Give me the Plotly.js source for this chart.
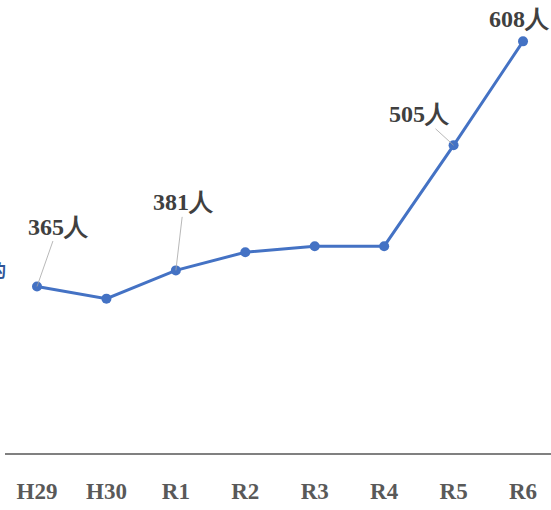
<!DOCTYPE html>
<html><head><meta charset="utf-8">
<script src="https://cdn.plot.ly/plotly-3.0.1.min.js"></script>
<style>html,body{margin:0;padding:0;background:#fff;}#chart{width:551px;height:510px;}</style>
</head><body><div id="chart"></div>
<script>
const categories = ["H29","H30","R1","R2","R3","R4","R5","R6"];
const values = [365, 353, 381, 399, 405, 405, 505, 608];
const labelIdx = [0, 2, 6, 7];
const labelText = ["365人","381人","505人","608人"];
const sideText = "目的";

const lineColor = "#4472C4";
const labelFont = {family: "Liberation Serif, DejaVu Serif, serif", size: 24, color: "#404040", weight: "bold"};
const offsets = [[21,-60],[8,-68],[-34,-31],[-4,-22]];

const annotations = labelIdx.map((idx, k) => {
  const a = {
    x: idx, y: values[idx], xref: "x", yref: "y",
    text: "<b>" + labelText[k] + "</b>",
    font: labelFont,
    ax: offsets[k][0], ay: offsets[k][1], axref: "pixel", ayref: "pixel",
    showarrow: k !== 3, arrowhead: 0, arrowwidth: 0.8, arrowcolor: "#A6A6A6", standoff: 0
  };
  if (k === 3) { a.showarrow = false; a.xshift = offsets[k][0]; a.yshift = -offsets[k][1]; }
  return a;
});
annotations.push({
  xref: "paper", yref: "y", x: 0, y: 382, xanchor: "right", xshift: 3,
  text: "<b>" + sideText + "</b>", showarrow: false,
  font: {family: "Noto Sans CJK JP, sans-serif", size: 17, color: "#2F5597"}
});

Plotly.newPlot("chart", [{
  x: categories.map((c, i) => i),
  y: values,
  type: "scatter", mode: "lines+markers",
  line: {color: lineColor, width: 3},
  marker: {color: lineColor, size: 10},
  hoverinfo: "skip", cliponaxis: false
}], {
  width: 551, height: 510,
  margin: {l: 5, r: 0, t: 0, b: 57},
  paper_bgcolor: "#fff", plot_bgcolor: "#fff",
  showlegend: false,
  xaxis: {
    range: [-0.461, 7.403], tickmode: "array",
    tickvals: categories.map((c, i) => i), ticktext: categories.map(c => "<b>" + c + "</b>"),
    showgrid: false, zeroline: false, showline: true, linecolor: "#808080", linewidth: 1.5,
    ticks: "", ticklabelstandoff: 17,
    tickfont: {family: "Liberation Serif, DejaVu Serif, serif", size: 23, color: "#595959"}
  },
  yaxis: {range: [200, 649], visible: false, showgrid: false, zeroline: false},
  annotations: annotations
}, {staticPlot: true});
</script></body></html>
